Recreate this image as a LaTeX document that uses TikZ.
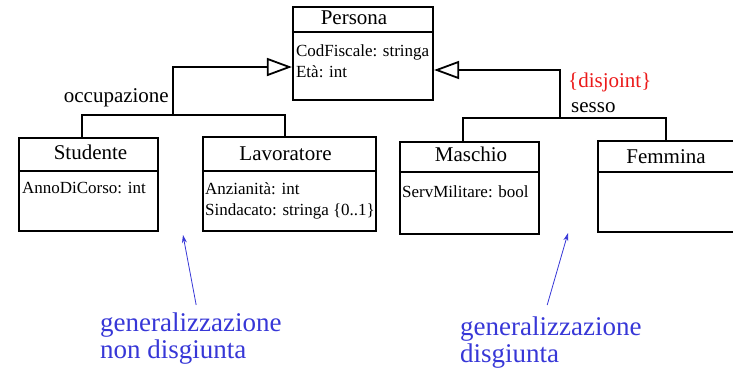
\documentclass[tikz,border=0pt]{standalone}
\usepackage{fontspec}
\setmainfont{Liberation Serif}
\usetikzlibrary{
  arrows.meta,
  positioning,
  calc
}
\definecolor{noteblue}{RGB}{55,55,215}
\definecolor{disjred}{RGB}{235,25,25}

\begin{document}
\begin{tikzpicture}[x=1pt, y=-1pt,
    classbox/.style={draw, line width=2.2pt, inner sep=0pt},
    clsname/.style={font=\fontsize{21}{25}\selectfont, anchor=base, inner sep=0pt},
    attrs/.style={font=\fontsize{17}{21}\selectfont, align=left, anchor=north west, inner sep=0pt},
    conn/.style={line width=1.8pt},
    gen/.style={conn, -{Triangle[open, length=25pt, width=18pt]}},
    lbl/.style={font=\fontsize{21}{25}\selectfont, inner sep=0pt},
    note/.style={font=\fontsize{27}{27}\selectfont, text=noteblue, align=left, anchor=north west, inner sep=0pt},
    pointer/.style={draw=noteblue, line width=0.8pt, -{Stealth[length=8pt, width=5pt]}}]
            \useasboundingbox (0,0) rectangle (733,373);

            % Superclass
            \node[classbox, minimum width=140pt, minimum height=93pt] (persona) at (363,53.5) {};
            \draw[line width=2pt] ($(persona.north west)+(0,26)$) -- ($(persona.north east)+(0,26)$);
            \node[clsname] (personaname) at ([shift={(-9,19)}]persona.north) {Persona};
            \node[attrs] (personaattr) at ([shift={(4,38.4)}]persona.north west) {CodFiscale: stringa\\Età: int};

            % Subclasses (occupazione)
            \node[classbox, minimum width=139pt, minimum height=93pt] (studente) at (88.5,184.5) {};
            \draw[line width=2pt] ($(studente.north west)+(0,34)$) -- ($(studente.north east)+(0,34)$);
            \node[clsname] (studentename) at ([shift={(2,23)}]studente.north) {Studente};
            \node[attrs] (studenteattr) at ([shift={(4,45.4)}]studente.north west) {AnnoDiCorso: int};

            \node[classbox, minimum width=173pt, minimum height=94pt] (lavoratore) at (289.5,184) {};
            \draw[line width=2pt] ($(lavoratore.north west)+(0,35)$) -- ($(lavoratore.north east)+(0,35)$);
            \node[clsname] (lavoratorename) at ([shift={(-4,25)}]lavoratore.north) {Lavoratore};
            \node[attrs] (lavoratoreattr) at ([shift={(3,46.4)}]lavoratore.north west) {Anzianità: int\\Sindacato: stringa \{0..1\}};

            % Subclasses (sesso)
            \node[classbox, minimum width=139pt, minimum height=92pt] (maschio) at (469.5,188) {};
            \draw[line width=2pt] ($(maschio.north west)+(0,31)$) -- ($(maschio.north east)+(0,31)$);
            \node[clsname] (maschioname) at ([shift={(1.5,21)}]maschio.north) {Maschio};
            \node[attrs] (maschioattr) at ([shift={(3,44.4)}]maschio.north west) {ServMilitare: bool};

            \node[classbox, minimum width=138pt, minimum height=91pt] (femmina) at (667,186.5) {};
            \draw[line width=2pt] ($(femmina.north west)+(0,32)$) -- ($(femmina.north east)+(0,32)$);
            \node[clsname] (femminaname) at ([shift={(-1,24)}]femmina.north) {Femmina};

            % Generalizations
            \coordinate (occjoin) at (173,115);
            \draw[gen] (occjoin) |- ([yshift=-13.5pt]persona.west);
            \draw[conn] ([xshift=-6.5pt]studente.north) |- (occjoin) -| ([xshift=-4.5pt]lavoratore.north);
            \node[lbl, anchor=base east] (occlabel) at ([shift={(-4,-13)}]occjoin) {occupazione};

            \coordinate (sexjoin) at (560,118);
            \draw[gen] (sexjoin) |- ([yshift=-16.5pt]persona.east);
            \draw[conn] ([xshift=-6.5pt]maschio.north) |- (sexjoin) -| ([xshift=-1pt]femmina.north);
            \node[lbl, anchor=base west, text=disjred] (disjlabel) at (568,87) {\{disjoint\}};
            \node[lbl, anchor=base west] (sexlabel) at (571,112) {sesso};

            % Notes
            \node[note] (leftnote) at (100,312.6) {generalizzazione\\non disgiunta};
            \node[note] (rightnote) at (460,316.6) {generalizzazione\\disgiunta};
            \coordinate (ndtip) at (183,235);
            \coordinate (dtip) at (568,233);
            \draw[pointer] ([xshift=5.3pt, yshift=7.6pt]leftnote.north) -- (ndtip);
            \draw[pointer] ([xshift=-3.7pt, yshift=11.6pt]rightnote.north) -- (dtip);
        \end{tikzpicture}
\end{document}
